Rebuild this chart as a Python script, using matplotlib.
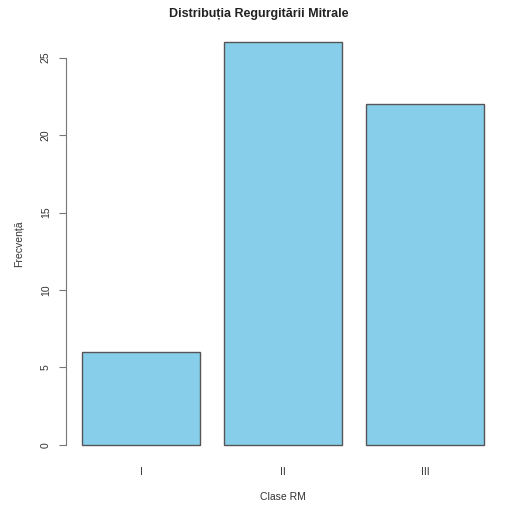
import matplotlib
matplotlib.use("Agg")
import matplotlib.pyplot as plt

classes = ["I", "II", "III"]
counts = [6, 26, 22]
y_ticks = [0, 5, 10, 15, 20, 25]

plt.rcParams["font.family"] = ["Liberation Sans", "DejaVu Sans"]

W, H = 518, 516
fig = plt.figure(figsize=(W / 100, H / 100), dpi=100)
ax = fig.add_axes([66 / W, (H - 461) / H, (500 - 66) / W, (461 - 26) / H])

# R-style barplot geometry: width 1, spacing 0.2
width, space = 1.0, 0.2
lefts = [space + i * (width + space) for i in range(len(counts))]
centers = [l + width / 2 for l in lefts]
ax.bar(centers, counts, width=width, color="#87CEEB", edgecolor="#555555", linewidth=1.0)

xr = (lefts[0], lefts[-1] + width)
pad = 0.04 * (xr[1] - xr[0])
ax.set_xlim(xr[0] - pad, xr[1] + pad)
ymax = max(counts)
ax.set_ylim(-0.04 * ymax, ymax * 1.04)

for s in ["top", "right", "bottom"]:
    ax.spines[s].set_visible(False)
ax.spines["left"].set_bounds(y_ticks[0], y_ticks[-1])
ax.spines["left"].set_color("#777777")

ax.set_yticks(y_ticks)
ax.set_yticklabels([str(t) for t in y_ticks], rotation=90, va="center", fontsize=7.5, color="#333333")
ax.tick_params(axis="y", direction="out", length=5, color="#777777", pad=6)
ax.set_xticks(centers)
ax.set_xticklabels(classes, fontsize=7.5, color="#333333")
ax.tick_params(axis="x", length=0, pad=4)

ax.set_xlabel("Clase RM", fontsize=7.5, color="#333333", labelpad=11)
ax.set_ylabel("Frecvență", fontsize=7.5, color="#333333", labelpad=12)
fig.text(0.5, 1 - 14 / H, "Distribuția Regurgitării Mitrale", ha="center", va="center",
         fontsize=9, fontweight="bold", color="#222222")

fig.savefig("out.png", dpi=100)
